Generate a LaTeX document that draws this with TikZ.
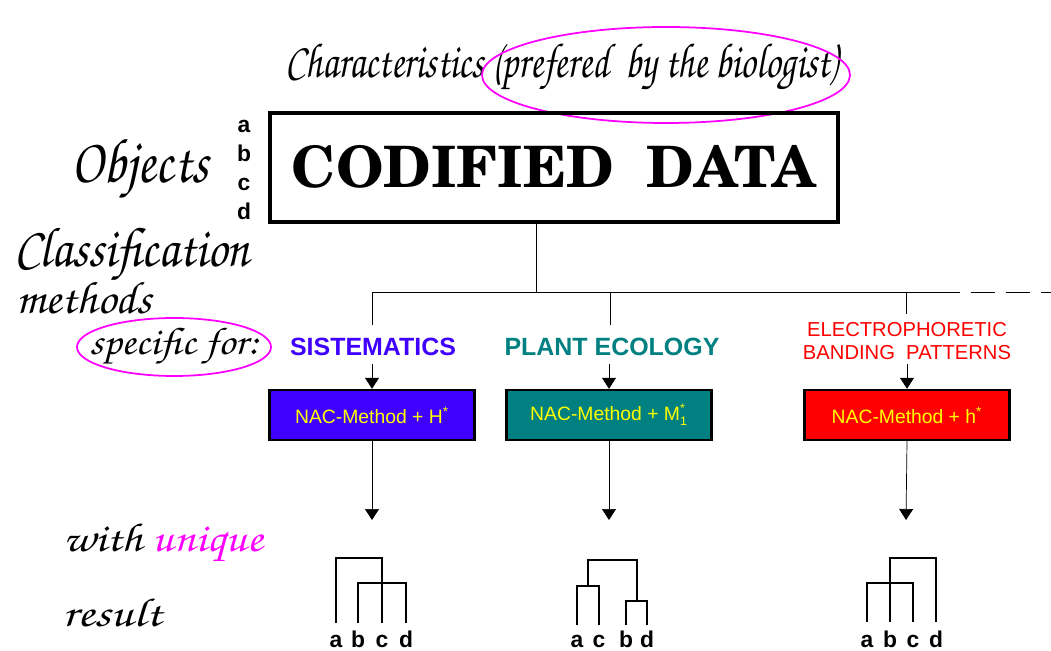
\documentclass[tikz,border=0pt]{standalone}
\usepackage[T1]{fontenc}
\usepackage{fontspec}
\usetikzlibrary{arrows.meta,positioning}
\newfontfamily\arial{Liberation Sans}
\newcommand\chancery{\fontencoding{T1}\fontfamily{pzc}\fontseries{mb}\fontshape{it}\selectfont}
\newcommand\schola{\fontencoding{T1}\fontfamily{pnc}\fontseries{b}\fontshape{n}\selectfont}
\newcommand\hand[3]{\scalebox{#2}[1]{\chancery\fontsize{#1}{#1}\selectfont #3}}
\definecolor{sisblue}{RGB}{63,0,255}
\definecolor{ecoteal}{RGB}{0,128,128}
\definecolor{ovalpink}{RGB}{255,0,255}
\definecolor{nacyellow}{RGB}{255,255,0}
\tikzset{
	objletter/.style={font=\arial\bfseries\fontsize{13}{13}\selectfont, inner sep=0pt, anchor=base},
	leaf/.style={font=\arial\bfseries\fontsize{13}{13}\selectfont, inner sep=0pt, anchor=base},
	field/.style={font=\arial\bfseries\fontsize{14.2}{15}\selectfont, align=center, inner sep=0pt},
	nacbox/.style={draw, line width=1.4pt, minimum width=4.1cm, minimum height=1cm, text=nacyellow, font=\arial\fontsize{11}{11}\selectfont},
	dendro/.style={line width=1.1pt},
	oval/.style={draw=ovalpink, line width=1pt}
}
\begin{document}
\begin{tikzpicture}[x=0.02cm, y=-0.02cm, line cap=butt, >={Triangle[width=0.28cm,length=0.22cm]}]
	\useasboundingbox (0,0) rectangle (1051,651);
	%Title and data box.
	\node (chars) at (562,68) {\hand{28}{0.775}{Characteristics (prefered\ \ by the biologist)}};
	\draw[oval] (666,75) ellipse [x radius=184, y radius=48];
	\node[draw, line width=2.3pt, minimum width=11.36cm, minimum height=2.18cm, font=\schola\fontsize{32.5}{32.5}\selectfont] (data) at (554,167.5) {CODIFIED\ \ DATA};
	\foreach \l/\y in {a/133,b/162,c/191,d/220}{
			\node[objletter] (obj\l) at (244,\y) {\l};
		}
	%Left side words.
	\node (objects) at (140,170) {\hand{36}{0.84}{Objects}};
	\node (classif) at (132,255) {\hand{32}{0.88}{Classification}};
	\node (methods) at (84,298) {\hand{26}{1.03}{methods}};
	\node (specific) at (174,347) {\hand{22}{1.08}{specific for:}};
	\draw[oval] (specific) ellipse [x radius=97, y radius=29];
	\node (withu) at (163,543) {\hand{23}{1.16}{with \textcolor{ovalpink}{unique}}};
	\node (result) at (112,612) {\hand{23}{1.24}{result}};
	%Tree.
	\coordinate (hub) at (536,292);
	\coordinate (br1) at (372,292);
	\coordinate (br2) at (610,292);
	\coordinate (br3) at (906,292);
	\coordinate (brend) at (960,292);
	\draw (data.south -| hub) -- (hub);
	\draw (br1) -- (brend);
	\draw[dash pattern=on 14pt off 6pt, dash phase=14pt] (brend) -- (1051,292);
	\draw (br1) -- ++(0,33) (br2) -- ++(0,33) (br3) -- ++(0,22);
	\node[field, text=sisblue] (sis) at (373,347) {SISTEMATICS};
	\node[field, text=ecoteal] (eco) at (612,347) {PLANT ECOLOGY};
	\node[field, text=red, font=\arial\fontsize{11.5}{13.5}\selectfont] (elec) at (907,341) {ELECTROPHORETIC\\BANDING\ \ PATTERNS};
	%Methods.
	\node[nacbox, fill=sisblue] (m1) at (372,415) {NAC-Method + H\textsuperscript{*}};
	\node[nacbox, fill=ecoteal] (m2) at (609,415) {NAC-Method + $\mbox{M}^{\mbox{\fontsize{7}{7}\selectfont *}}_{\mbox{\fontsize{7}{7}\selectfont 1}}$};
	\node[nacbox, fill=red] (m3) at (907,415) {NAC-Method + h\textsuperscript{*}};
	\foreach \m in {m1,m2,m3}{
			\draw[<-] (\m.north) -- ++(0,-25);
		}
	\coordinate (t1) at (372,520);
	\coordinate (t2) at (609,520);
	\coordinate (t3) at (906,520);
	\draw[->] (m1.south) -- (t1);
	\draw[->] (m2.south) -- (t2);
	\draw[->] (m3.south) -- (t3);
	%Dendrograms.
	\foreach \l/\x in {a/336,b/358,c/382,d/406}{
			\node[leaf] (la\l) at (\x,647) {\l};
		}
	\foreach \l/\x in {a/577,c/599,b/626,d/647}{
			\node[leaf] (lb\l) at (\x,647) {\l};
		}
	\foreach \l/\x in {a/867,b/890,c/913,d/936}{
			\node[leaf] (lc\l) at (\x,647) {\l};
		}
	\draw[dendro] (336,623) |- (382,558) -- (382,623);
	\draw[dendro] (358,623) |- (406,583) -- (406,623);
	\draw[dendro] (577,625) |- (599,586) -- (599,625);
	\draw[dendro] (626,625) |- (647,601) -- (647,625);
	\draw[dendro] (588,586) |- (637,560) -- (637,601);
	\draw[dendro] (867,622) |- (913,583) -- (913,622);
	\draw[dendro] (890,622) |- (936,558) -- (936,622);
\end{tikzpicture}
\end{document}
